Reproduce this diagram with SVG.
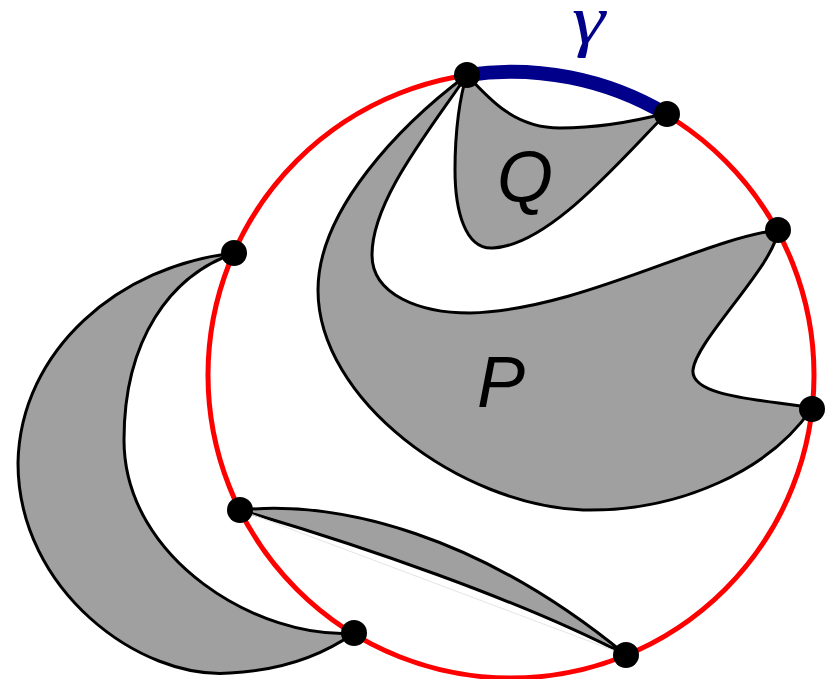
<svg xmlns="http://www.w3.org/2000/svg" width="833" height="679" viewBox="0 0 833 679">
<style>
.shape{fill:#a0a0a0;stroke:#000;stroke-width:3;stroke-linejoin:round}
.dot{fill:#000}
.lbl{font-family:"Liberation Sans","DejaVu Sans",sans-serif;font-style:italic;font-size:72px;fill:#000}
</style>
<rect width="833" height="679" fill="#fff"/>
<g id="crescent">
<path class="shape" d="M235,253 C120,265 20,350 18,463 C18,590 140,680 230,673 C290,670 330,650 354,633 C260,640 124,560 124,440 C124,340 170,275 235,253 Z"/>
</g>
<g id="lens">
<path class="shape" d="M240,510 C340,500 480,535 626,655 C520,600 360,545 240,510 Z"/>
<line x1="240" y1="510" x2="626" y2="655" stroke="#e4e4e4" stroke-width="1"/>
</g>
<g id="P">
<path class="shape" d="M467,75 C400,125 318,210 318,290 C318,400 460,505 583,510 C680,512 770,470 812,408 C770,400 690,398 693,370 C696,340 775,265 778,230 C700,240 580,310 470,313 C420,313 372,295 372,255 C372,200 430,130 467,75 Z"/>
<text class="lbl" x="477" y="407">P</text>
</g>
<g id="Q">
<path class="shape" d="M467,75 C490,100 515,128 560,128 C600,128 640,120 667,113 C620,160 550,245 493,248 C465,250 455,210 455,170 C455,130 460,95 467,75 Z"/>
<text class="lbl" x="497" y="202">Q</text>
</g>
<g id="connectors">
<circle cx="511" cy="375" r="303" fill="none" stroke="#ff0000" stroke-width="5"/>
<path d="M467,75 A303,303 0 0 1 666,114" fill="none" stroke="#00008b" stroke-width="14"/>
</g>
<g id="gamma">
<text transform="translate(572,43) scale(1.2,1)" x="0" y="0" font-family="Liberation Serif,'DejaVu Serif',serif" font-style="italic" font-size="70" fill="#00008b">γ</text>
</g>
<g id="points">
<circle class="dot" cx="467" cy="75" r="13"/>
<circle class="dot" cx="667" cy="114" r="13"/>
<circle class="dot" cx="234" cy="253" r="13"/>
<circle class="dot" cx="778" cy="230" r="13"/>
<circle class="dot" cx="812" cy="409" r="13"/>
<circle class="dot" cx="240" cy="510" r="13"/>
<circle class="dot" cx="354" cy="633" r="13"/>
<circle class="dot" cx="626" cy="655" r="13"/>
</g>
</svg>
